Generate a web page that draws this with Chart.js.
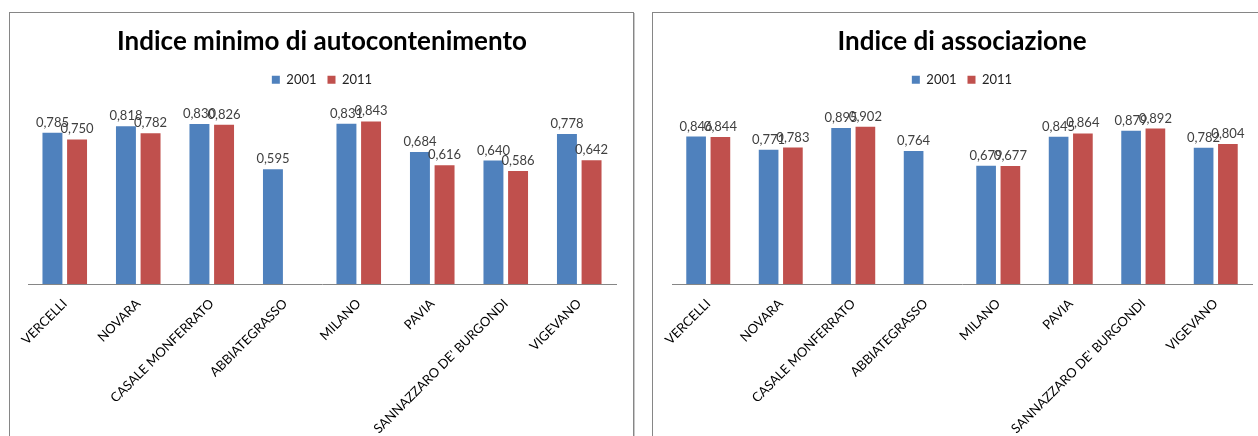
<!DOCTYPE html>
<html><head><meta charset="utf-8">
<script src="https://cdn.jsdelivr.net/npm/chart.js@4/dist/chart.umd.min.js"></script>
<style>
html,body{margin:0;padding:0;background:#fff;width:1258px;height:436px;overflow:hidden;}
.box{position:absolute;top:12px;width:623px;height:424px;border:1px solid #868686;box-shadow:1px 1px 0 #c8c8c8;background:#fff;}
#b1{left:9px;} #b2{left:652px;}
canvas{display:block;}
</style></head><body>
<div class="box" id="b1"><canvas id="c1" width="623" height="424"></canvas></div>
<div class="box" id="b2"><canvas id="c2" width="623" height="424"></canvas></div>
<script>
const categories = ['VERCELLI','NOVARA','CASALE MONFERRATO','ABBIATEGRASSO','MILANO','PAVIA',"SANNAZZARO DE' BURGONDI",'VIGEVANO'];
const seriesNames = ['2001','2011'];
const autocont2001 = [0.785,0.818,0.830,0.595,0.831,0.684,0.640,0.778];
const autocont2011 = [0.750,0.782,0.826,null,0.843,0.616,0.586,0.642];
const assoc2001 = [0.846,0.771,0.895,0.764,0.679,0.845,0.879,0.782];
const assoc2011 = [0.844,0.783,0.902,null,0.677,0.864,0.892,0.804];
const titles = ['Indice minimo di autocontenimento','Indice di associazione'];

const valueLabels = {
  id:'valueLabels',
  afterDatasetsDraw(chart){
    const ctx = chart.ctx; ctx.save();
    ctx.font = '13px Lato'; ctx.fillStyle = '#404040';
    ctx.textAlign = 'center'; ctx.textBaseline = 'alphabetic';
    chart.data.datasets.forEach((ds,i)=>{
      chart.getDatasetMeta(i).data.forEach((bar,j)=>{
        const v = ds.data[j]; if (v == null) return;
        ctx.fillText(v.toFixed(3).replace('.', ','), bar.x, bar.y - 6);
      });
    });
    ctx.restore();
  }
};

function makeChart(id, title, d1, d2, yMax, padL, padR){
  return new Chart(document.getElementById(id), {
    type:'bar',
    data:{labels:categories, datasets:[
      {label:seriesNames[0], data:d1, backgroundColor:'#4F81BD', categoryPercentage:0.67, barPercentage:0.81},
      {label:seriesNames[1], data:d2, backgroundColor:'#C0504D', categoryPercentage:0.67, barPercentage:0.81}
    ]},
    options:{
      responsive:false, animation:false, devicePixelRatio:1,
      layout:{padding:{left:padL,right:padR,top:0,bottom:0}},
      plugins:{
        title:{display:true,text:title,color:'#000',font:{family:'Lato',size:26,weight:'bold'},padding:{top:13,bottom:5}},
        legend:{display:true,position:'top',labels:{boxWidth:8,boxHeight:8,color:'#222',font:{family:'Lato',size:13},padding:11}},
        tooltip:{enabled:false}
      },
      scales:{
        x:{grid:{display:false,drawTicks:false}, border:{display:true,color:'#868686',width:1},
           ticks:{autoSkip:false,maxRotation:45,minRotation:45,color:'#000',font:{family:'Lato',size:13},padding:12},
           afterFit(s){ s.paddingLeft=0; s.paddingRight=0; s.height=424-271; }},
        y:{display:false,min:0,max:yMax}
      }
    },
    plugins:[valueLabels]
  });
}
makeChart('c1', titles[0], autocont2001, autocont2011, 0.974, 18, 17);
makeChart('c2', titles[1], assoc2001, assoc2011, 1.078, 19, 24);
</script>
</body></html>
